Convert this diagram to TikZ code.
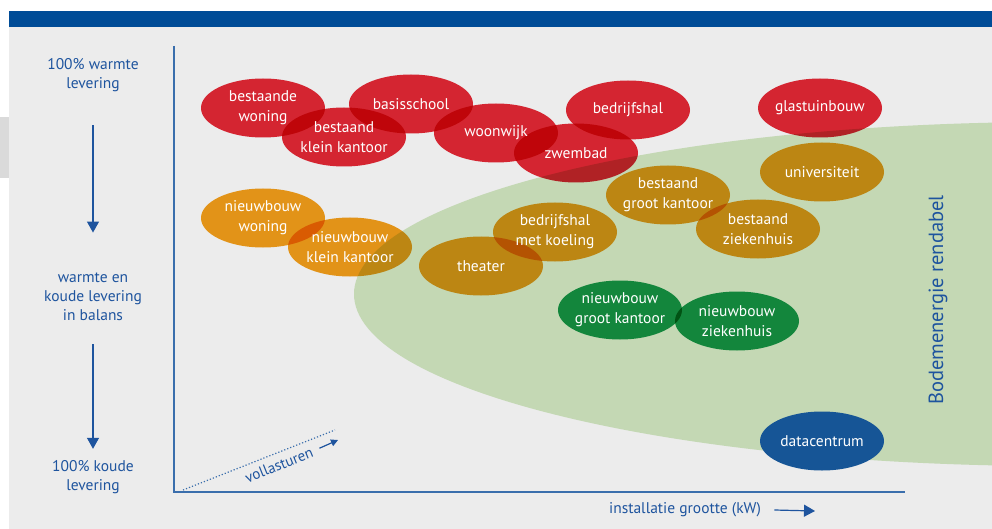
\documentclass[tikz,border=0pt]{standalone}
\usepackage{fontspec}
\setmainfont{PT Sans}
\usetikzlibrary{shapes.geometric,arrows.meta}

\definecolor{barblue}{RGB}{0,76,151}
\definecolor{bggray}{RGB}{236,236,236}
\definecolor{tabgray}{RGB}{218,218,218}
\definecolor{zonegreen}{RGB}{196,216,180}
\definecolor{axisblue}{RGB}{58,110,172}
\definecolor{txtblue}{RGB}{30,84,158}
\definecolor{warmred}{RGB}{230,41,53}
\definecolor{mixorange}{RGB}{245,159,27}
\definecolor{coolgreen}{RGB}{26,159,85}
\definecolor{dcblue}{RGB}{22,85,150}

\tikzset{
  blob/.style={ellipse, minimum width=124pt, minimum height=59pt, inner sep=0pt, blend mode=multiply},
  blobtext/.style={text=white, align=center, font=\fontsize{15.5}{20}\selectfont},
  axislabel/.style={text=txtblue, align=center, font=\fontsize{15.5}{19}\selectfont},
  flow/.style={txtblue, line width=1.2pt, -{Triangle[length=11pt,width=12pt]}},
}

\begin{document}
\begin{tikzpicture}[x=1pt, y=-1pt]
\useasboundingbox (0,0) rectangle (992,529);

% achtergrond
\fill [white] (0,0) rectangle (992,529);
\fill [bggray] (9,27) rectangle (992,529);
\fill [barblue] (9,11) rectangle (992,27);
\fill [tabgray] (0,117) rectangle (9,178);

% gebied waar bodemenergie rendabel is
\begin{scope}
\clip (9,27) rectangle (992,529);
\fill [zonegreen] (1054,294) ellipse [x radius=700, y radius=172];
\end{scope}
\node [txtblue, rotate=90, font=\fontsize{20.5}{24}\selectfont] (zone) at (938,300) {Bodemenergie rendabel};

% assen
\draw [axisblue, line width=1.5pt] (174,46) -- (174,492) -- (905,492);

\node [axislabel] (warm) at (93,75) {100\% warmte\\levering};
\node [axislabel] (balans) at (93,297) {warmte en\\koude levering\\in balans};
\node [axislabel] (koud) at (93,477) {100\% koude\\levering};
\draw [flow] ([yshift=-30pt]warm.south) -- ([yshift=37pt]balans.north);
\draw [flow] ([yshift=-20pt]balans.south) -- ([yshift=8pt]koud.north);

\coordinate (origin) at (183,490);
\coordinate (vlend) at (335,430);
\draw [axisblue, dotted, line width=1.2pt] (origin) -- (vlend);
\node [txtblue, rotate=21.8, inner sep=1pt, font=\fontsize{15}{16}\selectfont] (vol) at (279,465) {vollasturen};
\coordinate (volarr) at (338,440);
\draw [txtblue, line width=1.2pt, -{Triangle[length=7pt,width=7pt]}] ([shift={(6pt,3pt)}]vol.east) -- (volarr);

\node [txtblue, font=\fontsize{15.5}{18}\selectfont] (kw) at (685,510) {installatie grootte (kW)};
\coordinate (kwarr) at (815,511);
\draw [txtblue, line width=1.2pt, -{Triangle[length=11pt,width=12pt]}] ([xshift=10pt]kw.east) -- (kwarr);

% gebouwtypen
\node [blob, fill=warmred] (wonBest) at (263,108) {};
\node [blob, fill=warmred] (school) at (411,104) {};
\node [blob, fill=warmred] (kleinBest) at (344,137) {};
\node [blob, fill=warmred] (wijk) at (496,133) {};
\node [blob, fill=warmred] (hal) at (628,110) {};
\node [blob, fill=warmred] (zwembad) at (576,153) {};
\node [blob, fill=warmred] (glas) at (820,108) {};

\node [blob, fill=mixorange] (wonNieuw) at (263,218) {};
\node [blob, fill=mixorange] (kleinNieuw) at (350,247) {};
\node [blob, fill=mixorange] (theater) at (481,266) {};
\node [blob, fill=mixorange] (koeling) at (555,232) {};
\node [blob, fill=mixorange] (grootBest) at (668,195) {};
\node [blob, fill=mixorange] (ziekBest) at (758,229) {};
\node [blob, fill=mixorange] (uni) at (822,172) {};

\node [blob, fill=coolgreen] (grootNieuw) at (620,310) {};
\node [blob, fill=coolgreen] (ziekNieuw) at (737,321) {};

\node [blob, fill=dcblue, blend mode=normal] (data) at (822,441) {};

% teksten
\node [blobtext] (wonBestT) at (wonBest) {bestaande\\woning};
\node [blobtext] (schoolT) at (school) {basisschool};
\node [blobtext] (kleinBestT) at (kleinBest) {bestaand\\klein kantoor};
\node [blobtext] (wijkT) at (wijk) {woonwijk};
\node [blobtext] (halT) at (hal) {bedrijfshal};
\node [blobtext] (zwembadT) at (zwembad) {zwembad};
\node [blobtext] (glasT) at (glas) {glastuinbouw};
\node [blobtext] (wonNieuwT) at (wonNieuw) {nieuwbouw\\woning};
\node [blobtext] (kleinNieuwT) at (kleinNieuw) {nieuwbouw\\klein kantoor};
\node [blobtext] (theaterT) at (theater) {theater};
\node [blobtext] (koelingT) at (koeling) {bedrijfshal\\met koeling};
\node [blobtext] (grootBestT) at (grootBest) {bestaand\\groot kantoor};
\node [blobtext] (ziekBestT) at (ziekBest) {bestaand\\ziekenhuis};
\node [blobtext] (uniT) at (uni) {universiteit};
\node [blobtext] (grootNieuwT) at (grootNieuw) {nieuwbouw\\groot kantoor};
\node [blobtext] (ziekNieuwT) at (ziekNieuw) {nieuwbouw\\ziekenhuis};
\node [blobtext] (dataT) at (data) {datacentrum};

\end{tikzpicture}
\end{document}
